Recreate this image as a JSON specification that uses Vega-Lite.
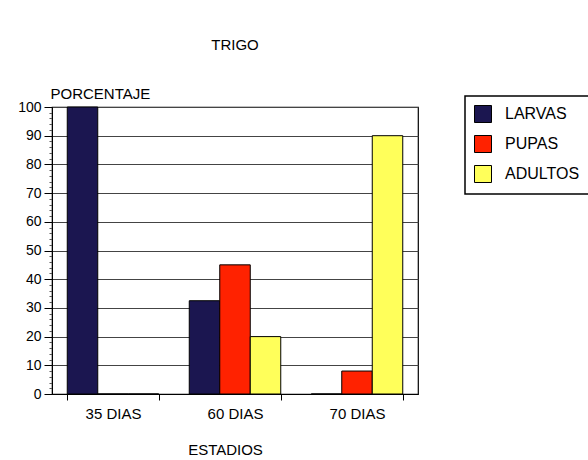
{
  "$schema": "https://vega.github.io/schema/vega-lite/v6.json",
  "width": 366,
  "height": 287,
  "autosize": {"type": "none"},
  "padding": {"left": 52, "top": 107, "right": 170, "bottom": 66},
  "background": "white",
  "config": {
    "font": "Liberation Sans",
    "view": {"stroke": "black", "strokeWidth": 1.2}
  },
  "title": {
    "text": "TRIGO",
    "fontSize": 15,
    "fontWeight": "normal",
    "color": "black",
    "frame": "group",
    "anchor": "middle",
    "baseline": "alphabetic",
    "offset": 21
  },
  "data": {
    "values": [
      {"dias": "35 DIAS", "estadio": "LARVAS", "porcentaje": 100},
      {"dias": "35 DIAS", "estadio": "PUPAS", "porcentaje": 0},
      {"dias": "35 DIAS", "estadio": "ADULTOS", "porcentaje": 0},
      {"dias": "60 DIAS", "estadio": "LARVAS", "porcentaje": 32.5},
      {"dias": "60 DIAS", "estadio": "PUPAS", "porcentaje": 45},
      {"dias": "60 DIAS", "estadio": "ADULTOS", "porcentaje": 20},
      {"dias": "70 DIAS", "estadio": "LARVAS", "porcentaje": 0},
      {"dias": "70 DIAS", "estadio": "PUPAS", "porcentaje": 8},
      {"dias": "70 DIAS", "estadio": "ADULTOS", "porcentaje": 90}
    ]
  },
  "mark": {"type": "bar", "stroke": "black", "strokeWidth": 1},
  "encoding": {
    "x": {
      "field": "dias",
      "type": "nominal",
      "sort": ["35 DIAS", "60 DIAS", "70 DIAS"],
      "scale": {"paddingInner": 0.25, "paddingOuter": 0.125},
      "axis": {
        "labelAngle": 0,
        "labelFontSize": 15,
        "labelColor": "black",
        "labelPadding": 6,
        "tickSize": 6,
        "tickBand": "extent",
        "tickColor": "black",
        "domainColor": "black",
        "title": "ESTADIOS",
        "titleFontSize": 15,
        "titleFontWeight": "normal",
        "titleColor": "black",
        "titlePadding": 21,
        "titleX": 173
      }
    },
    "xOffset": {
      "field": "estadio",
      "sort": ["LARVAS", "PUPAS", "ADULTOS"],
      "scale": {"paddingInner": 0, "paddingOuter": 0}
    },
    "y": {
      "field": "porcentaje",
      "type": "quantitative",
      "scale": {"domain": [0, 100]},
      "axis": {
        "values": [0, 2, 4, 6, 8, 10, 12, 14, 16, 18, 20, 22, 24, 26, 28, 30, 32, 34, 36, 38, 40, 42, 44, 46, 48, 50, 52, 54, 56, 58, 60, 62, 64, 66, 68, 70, 72, 74, 76, 78, 80, 82, 84, 86, 88, 90, 92, 94, 96, 98, 100],
        "labelExpr": "datum.value % 10 === 0 ? datum.label : ''",
        "tickSize": {"condition": {"test": "datum.value % 10 === 0", "value": 8}, "value": 3},
        "tickColor": {"condition": {"test": "datum.value % 10 === 0", "value": "black"}, "value": "#555555"},
        "gridOpacity": {"condition": {"test": "datum.value % 10 === 0", "value": 1}, "value": 0},
        "tickWidth": 1,
        "domainColor": "black",
        "labelFontSize": 14,
        "labelColor": "black",
        "labelPadding": 3,
        "gridColor": "#444444",
        "title": "PORCENTAJE",
        "titleAngle": 0,
        "titleX": -2,
        "titleY": -9,
        "titleAlign": "left",
        "titleBaseline": "alphabetic",
        "titleFontSize": 15,
        "titleFontWeight": "normal",
        "titleColor": "black"
      }
    },
    "color": {
      "field": "estadio",
      "type": "nominal",
      "sort": ["LARVAS", "PUPAS", "ADULTOS"],
      "scale": {
        "domain": ["LARVAS", "PUPAS", "ADULTOS"],
        "range": ["#1b1650", "#ff2200", "#ffff5a"]
      },
      "legend": {
        "title": null,
        "orient": "none",
        "legendX": 413,
        "legendY": -11,
        "padding": 9,
        "fillColor": "white",
        "strokeColor": "black",
        "symbolType": "square",
        "symbolSize": 289,
        "symbolStrokeColor": "black",
        "symbolStrokeWidth": 1,
        "labelFontSize": 16,
        "labelColor": "black",
        "rowPadding": 8,
        "labelOffset": 13,
        "encode": {"legend": {"update": {"strokeWidth": {"value": 1.5}}}}
      }
    }
  }
}
